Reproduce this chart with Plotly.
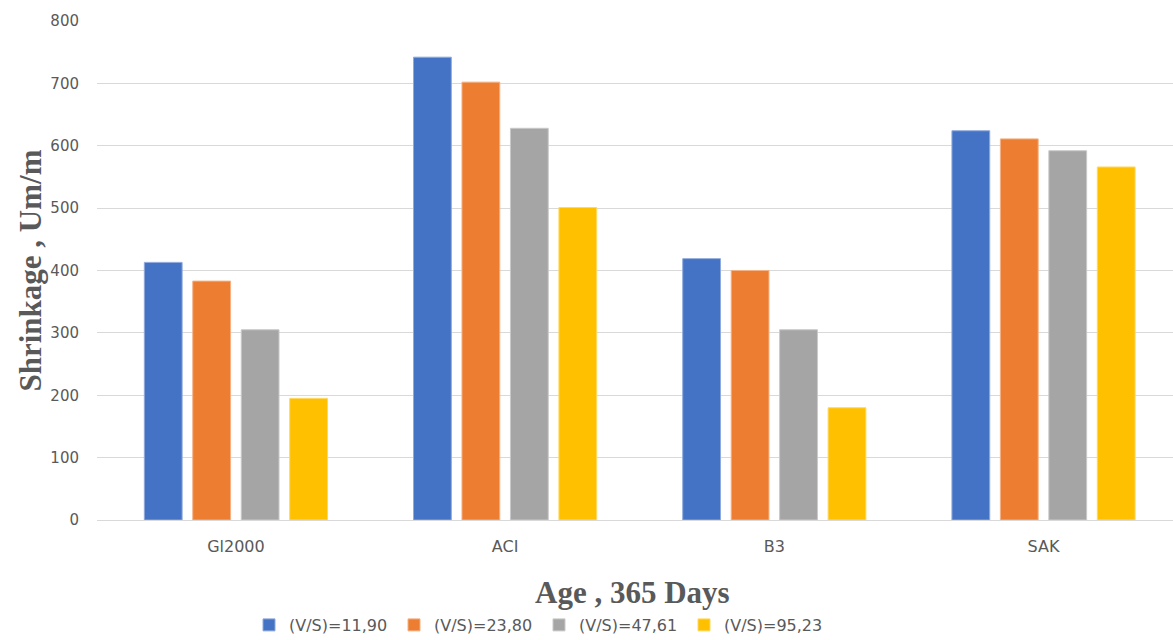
import plotly.graph_objects as go

# Shrinkage at 365 days for each prediction model and volume/surface ratio
models = ["Gl2000", "ACI", "B3", "SAK"]
series_names = ["(V/S)=11,90", "(V/S)=23,80", "(V/S)=47,61", "(V/S)=95,23"]
vs_1190 = [413, 742, 419, 624]
vs_2380 = [383, 702, 400, 611]
vs_4761 = [305, 628, 305, 592]
vs_9523 = [195, 501, 180, 566]
y_ticks = [0, 100, 200, 300, 400, 500, 600, 700, 800]

series_values = [vs_1190, vs_2380, vs_4761, vs_9523]
fill_colors = ["#4472C4", "#ED7D31", "#A5A5A5", "#FFC000"]
edge_colors = ["#8FAADC", "#F4B183", "#C9C9C9", "#FFD966"]

W, H = 1173, 640
fig = go.Figure()
for name, vals, fc, ec in zip(series_names, series_values, fill_colors, edge_colors):
    fig.add_trace(go.Bar(
        x=models, y=vals, name=name,
        marker=dict(color=fc, line=dict(color=ec, width=1)),
    ))

tick_font = dict(family="DejaVu Sans, sans-serif", size=15, color="#595959")
title_font = dict(family="Liberation Serif, Times New Roman, serif", size=31, color="#595959")

fig.update_layout(
    width=W, height=H,
    margin=dict(l=97, r=0, t=21, b=120),
    paper_bgcolor="white", plot_bgcolor="white",
    barmode="group", bargap=0.28, bargroupgap=0.22,
    showlegend=True,
    legend=dict(
        orientation="h", xref="container", yref="container",
        x=249 / W, y=1 - 608 / H, xanchor="left", yanchor="top",
        font=dict(family="DejaVu Sans, sans-serif", size=16, color="#595959"),
        entrywidth=100, entrywidthmode="pixels",
        itemwidth=30, tracegroupgap=0,
    ),
    xaxis=dict(
        range=[-0.516, 3.481], showgrid=False, showline=True,
        linecolor="#D9D9D9", linewidth=1, ticks="", tickfont=dict(tick_font, size=16),
        ticklabelstandoff=12,
    ),
    yaxis=dict(
        range=[0, 800], tickvals=y_ticks, showgrid=True, gridcolor="#D9D9D9",
        gridwidth=1, zeroline=False, showline=False, ticks="", tickfont=tick_font,
        ticklabelstandoff=17,
    ),
    annotations=[
        dict(text="<b>Shrinkage , Um/m</b>", xref="paper", yref="paper",
             x=-67 / 1076, y=0.5, xanchor="center", yanchor="middle",
             textangle=-90, showarrow=False, font=title_font),
        dict(text="<b>Age , 365 Days</b>", xref="paper", yref="paper",
             x=(632 - 97) / 1076, y=-(592 - 520) / 499, xanchor="center", yanchor="middle",
             showarrow=False, font=title_font),
    ],
)

fig.write_html("out.html")
